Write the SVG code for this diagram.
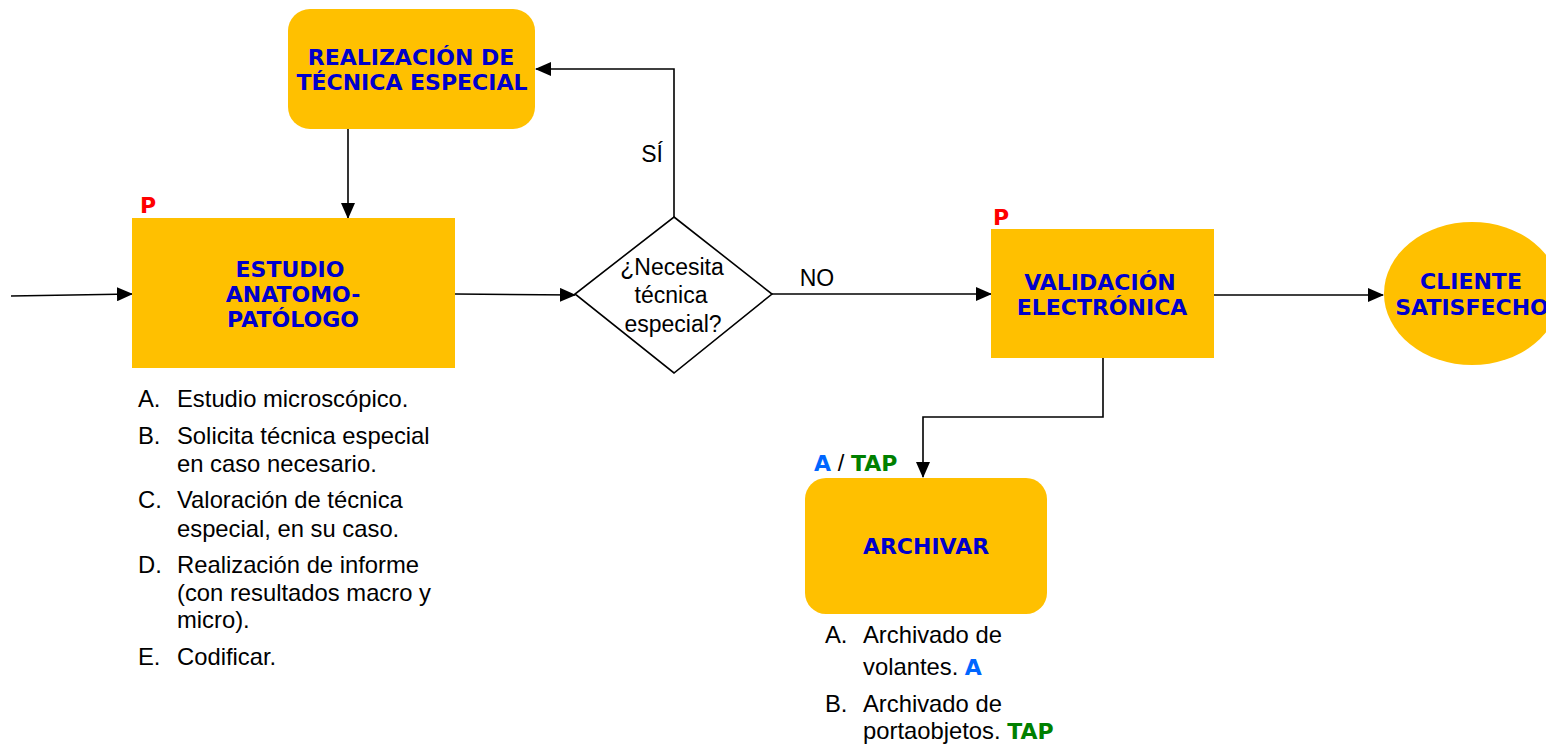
<svg xmlns="http://www.w3.org/2000/svg" width="1546" height="745" viewBox="0 0 1546 745">
<style>
.box{fill:#FFC000;stroke:none}
.bt{font-family:"DejaVu Sans",Verdana,sans-serif;font-weight:bold;font-size:22px;fill:#0000CC;text-anchor:middle}
.p{font-family:"DejaVu Sans",Verdana,sans-serif;font-weight:bold;font-size:22px;fill:#FF0000}
.t{font-family:"Liberation Sans",Arial,sans-serif;font-size:23.8px;fill:#000000}
.tc{font-family:"Liberation Sans",Arial,sans-serif;font-size:23px;fill:#000000;text-anchor:middle}
.ln{fill:none;stroke:#000000;stroke-width:1.6}
.bA{font-family:"DejaVu Sans",Verdana,sans-serif;font-weight:bold;fill:#0066FF}
.bT{font-family:"DejaVu Sans",Verdana,sans-serif;font-weight:bold;fill:#008000}
</style>
<defs>
<marker id="ah" markerWidth="16" markerHeight="14" refX="15" refY="7" orient="auto" markerUnits="userSpaceOnUse">
<path d="M0,0 L16,7 L0,14 Z" fill="#000000"/>
</marker>
</defs>
<rect width="1546" height="745" fill="#FFFFFF"/>
<g id="connectors">
<line class="ln" x1="11" y1="296" x2="132" y2="294" marker-end="url(#ah)"/>
<line class="ln" x1="348" y1="129" x2="348" y2="218" marker-end="url(#ah)"/>
<line class="ln" x1="455" y1="294" x2="575" y2="295" marker-end="url(#ah)"/>
<polyline class="ln" points="674,217 674,69 536,69" marker-end="url(#ah)"/>
<line class="ln" x1="772" y1="294" x2="991" y2="294" marker-end="url(#ah)"/>
<line class="ln" x1="1214" y1="295" x2="1383" y2="295" marker-end="url(#ah)"/>
<polyline class="ln" points="1103,358 1103,417 923,417 923,477" marker-end="url(#ah)"/>
<text class="tc" x="652" y="162">SÍ</text>
<text class="tc" x="817" y="286">NO</text>
</g>
<g id="tecnica-especial">
<rect class="box" x="288" y="9" width="247" height="120" rx="22"/>
<text class="bt" x="411" y="65">REALIZACIÓN DE</text>
<text class="bt" x="412" y="90">TÉCNICA ESPECIAL</text>
</g>
<g id="estudio">
<text class="p" x="140" y="213">P</text>
<rect class="box" x="132" y="218" width="323" height="150"/>
<text class="bt" x="290" y="277">ESTUDIO</text>
<text class="bt" x="293" y="302">ANATOMO-</text>
<text class="bt" x="293" y="327">PATÓLOGO</text>
<text class="t" x="138" y="407">A.</text><text class="t" x="177" y="407">Estudio microscópico.</text>
<text class="t" x="138" y="444">B.</text><text class="t" x="177" y="444">Solicita técnica especial</text>
<text class="t" x="177" y="472">en caso necesario.</text>
<text class="t" x="138" y="508">C.</text><text class="t" x="177" y="508">Valoración de técnica</text>
<text class="t" x="177" y="537">especial, en su caso.</text>
<text class="t" x="138" y="573">D.</text><text class="t" x="177" y="573">Realización de informe</text>
<text class="t" x="177" y="601">(con resultados macro y</text>
<text class="t" x="177" y="628">micro).</text>
<text class="t" x="138" y="665">E.</text><text class="t" x="177" y="665">Codificar.</text>
</g>
<g id="decision">
<polygon points="674,217 772,294 674,373 575,294" fill="#FFFFFF" stroke="#000000" stroke-width="1.6"/>
<text class="tc" x="672" y="275">¿Necesita</text>
<text class="tc" x="671" y="303">técnica</text>
<text class="tc" x="673" y="332">especial?</text>
</g>
<g id="validacion">
<text class="p" x="993" y="225">P</text>
<rect class="box" x="991" y="229" width="223" height="129"/>
<text class="bt" x="1100" y="290">VALIDACIÓN</text>
<text class="bt" x="1102" y="315">ELECTRÓNICA</text>
</g>
<g id="cliente">
<ellipse class="box" cx="1472" cy="293.5" rx="88" ry="71.5"/>
<text class="bt" x="1471" y="289">CLIENTE</text>
<text class="bt" x="1472" y="315">SATISFECHO</text>
</g>
<g id="archivar">
<text class="t" x="814" y="471"><tspan class="bA" font-size="22px">A</tspan> / <tspan class="bT" font-size="22px">TAP</tspan></text>
<rect class="box" x="805" y="478" width="242" height="136" rx="21"/>
<text class="bt" x="926" y="554">ARCHIVAR</text>
<text class="t" x="825" y="643">A.</text><text class="t" x="863" y="643">Archivado de</text>
<text class="t" x="863" y="675">volantes. <tspan class="bA" font-size="22px">A</tspan></text>
<text class="t" x="825" y="712">B.</text><text class="t" x="863" y="712">Archivado de</text>
<text class="t" x="863" y="739">portaobjetos. <tspan class="bT" font-size="22px">TAP</tspan></text>
</g>
</svg>
